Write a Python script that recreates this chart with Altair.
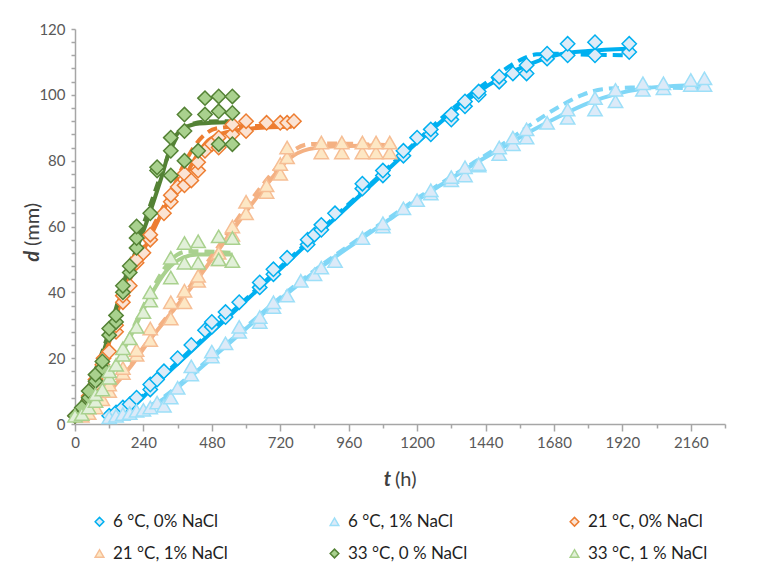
import altair as alt
import pandas as pd

# ---- series definitions -------------------------------------------------
SERIES = ["6 °C, 0% NaCl", "6 °C, 1% NaCl", "21 °C, 0% NaCl",
          "21 °C, 1% NaCl", "33 °C, 0 % NaCl", "33 °C, 1 % NaCl"]
SHAPES = ["diamond", "triangle-up", "diamond", "triangle-up", "diamond", "triangle-up"]
FILLS = ["#DDEBF7", "#DCEAF8", "#FBE3D3", "#FDE7C4", "#A9D18E", "#E2F0D9"]
STROKES = ["#00B0F0", "#9DDFF8", "#ED7D31", "#F6BE95", "#548235", "#A9D18E"]
LINE_COLORS = ["#00B0F0", "#80D7F7", "#ED7D31", "#F4B183", "#548235", "#A9D18E"]

# ---- measured diameters (t in h, d in mm) -------------------------------
obs_6_0 = [(0, 2.5), (120, 2.5), (144, 3.5), (168, 5), (192, 6), (216, 8), (264, 10.5), (264, 12),
           (288, 13.5), (312, 16), (360, 20), (408, 24), (456, 28.5), (480, 29.5), (480, 31),
           (528, 32.5), (528, 34), (576, 37), (648, 41.5), (648, 43), (696, 45.5), (696, 47),
           (744, 50.5), (816, 54.5), (816, 56), (840, 57.5), (864, 59), (864, 60.5), (912, 64),
           (1008, 71.5), (1008, 73), (1080, 75.5), (1080, 77), (1152, 81.5), (1152, 83), (1200, 87),
           (1248, 88), (1248, 89.5), (1320, 92.5), (1320, 94), (1368, 96.5), (1368, 98),
           (1416, 100), (1416, 101), (1488, 104), (1488, 105.5), (1536, 106.5), (1584, 106.5),
           (1584, 109), (1656, 111), (1656, 112.5), (1728, 112), (1728, 115.5), (1824, 112),
           (1824, 116), (1944, 113), (1944, 115.5)]
obs_6_1 = [(120, 2), (144, 2.5), (168, 3), (192, 3.3), (216, 4), (240, 4.3), (264, 5), (288, 6.5),
           (312, 5.5), (336, 8), (360, 11), (408, 15), (408, 17.5), (480, 20.5), (480, 22),
           (528, 24.5), (576, 28), (576, 29.5), (648, 31), (648, 32.5), (696, 35.5), (696, 37),
           (744, 39), (792, 43.5), (840, 45.5), (864, 47.5), (912, 49.5), (1008, 56.5), (1080, 60),
           (1080, 61), (1152, 65.5), (1200, 68), (1248, 70), (1248, 71), (1320, 74), (1320, 75),
           (1368, 75.5), (1368, 78), (1416, 78.5), (1416, 79), (1488, 82), (1488, 84), (1536, 85),
           (1536, 87), (1584, 87), (1584, 89.5), (1656, 91.5), (1728, 93), (1728, 95.5),
           (1824, 95.5), (1824, 99), (1896, 98), (1896, 101.5), (1992, 101.5), (1992, 103.5),
           (2064, 102), (2064, 103.5), (2160, 103), (2160, 104.5), (2208, 103), (2208, 105)]
obs_21_0 = [(0, 2.5), (24, 4), (48, 7), (48, 8.5), (72, 12), (72, 13.5), (96, 16), (96, 18),
            (100, 20), (120, 22), (144, 28), (144, 30), (168, 37), (168, 39), (192, 42), (216, 49),
            (216, 50), (240, 52), (264, 56), (264, 57.5), (312, 64), (336, 67.5), (336, 69.5),
            (360, 72), (384, 72.5), (384, 76), (408, 74), (432, 77), (432, 79.5), (456, 83),
            (480, 85), (504, 84), (504, 87), (552, 88), (552, 91), (600, 89), (600, 92),
            (672, 91.5), (720, 91.5), (744, 91.5), (768, 92)]
obs_21_1 = [(24, 2.5), (48, 3.3), (72, 5), (96, 7.5), (120, 10), (120, 12), (168, 15.5), (168, 17),
            (216, 21), (216, 22.5), (264, 25.5), (264, 29), (336, 32), (336, 37), (384, 37),
            (384, 40.5), (432, 43.5), (432, 45), (504, 50), (504, 52), (552, 57.5), (552, 60),
            (600, 64), (600, 67.5), (672, 70.5), (672, 72.5), (720, 76), (720, 79), (744, 81),
            (744, 84), (864, 82.5), (864, 85.5), (936, 82.5), (936, 85.5), (1008, 82.5),
            (1008, 85.5), (1056, 82.5), (1056, 85.5), (1104, 82.5), (1104, 85.5)]
obs_33_0 = [(0, 2.5), (24, 5), (48, 8), (48, 10), (72, 13), (72, 15), (96, 17), (96, 19), (120, 27),
            (120, 29), (144, 31), (144, 33), (168, 40), (168, 42), (192, 46), (192, 48), (216, 53.5),
            (216, 56.5), (216, 60), (264, 64), (288, 77), (288, 78), (336, 75.5), (336, 83),
            (336, 87), (384, 80), (384, 89), (384, 94), (432, 83), (456, 94), (456, 99), (504, 85),
            (504, 95), (504, 99.5), (552, 85), (552, 94.5), (552, 99.5)]
obs_33_1 = [(0, 2.5), (24, 3), (48, 5), (72, 7), (72, 9), (96, 10.5), (120, 14), (120, 16), (144, 18),
            (168, 21), (168, 23), (192, 26), (216, 29.5), (240, 34), (264, 37.5), (264, 40),
            (336, 44.5), (336, 50.5), (384, 49), (384, 55), (432, 49), (432, 55.5), (504, 50),
            (504, 57), (552, 49.5), (552, 56.5)]

# ---- fitted growth curves: solid and dashed model -----------------------
fit_6_0_solid = [(130, 0.5), (200, 5), (300, 13.5), (400, 21.5), (500, 29.5), (600, 37.5), (700, 45.5),
                 (800, 53.5), (900, 61.5), (1000, 69.5), (1100, 77.5), (1200, 85.5), (1300, 93),
                 (1400, 100), (1500, 105.5), (1600, 109.5), (1700, 112.3), (1800, 113.3), (1940, 114)]
fit_6_0_dash = [(130, 0.5), (200, 5.5), (300, 14), (400, 22), (500, 30), (600, 38), (700, 46),
                (800, 54), (900, 62), (1000, 70), (1100, 78), (1200, 86), (1300, 94), (1400, 101),
                (1480, 106), (1560, 110.5), (1620, 112.3), (1680, 112.5), (1800, 112.2), (1940, 112)]
fit_6_1_solid = [(110, 0.5), (200, 2.5), (300, 7), (400, 14), (500, 21.5), (600, 29), (700, 36.5),
                 (800, 43.5), (900, 50), (1000, 56), (1100, 62), (1200, 68), (1300, 73.5), (1400, 79),
                 (1500, 84), (1600, 89), (1700, 93.5), (1800, 97.5), (1900, 100.3), (2000, 102),
                 (2100, 102.7), (2200, 103)]
fit_6_1_dash = [(110, 0.5), (200, 2.8), (300, 7.5), (400, 14.5), (500, 22), (600, 29.5), (700, 37),
                (800, 44), (900, 50.5), (1000, 56.5), (1100, 62.5), (1200, 68.5), (1300, 74),
                (1400, 79.5), (1500, 85), (1600, 91), (1700, 96.5), (1780, 100), (1850, 101.7),
                (1950, 102.2), (2200, 102)]
fit_21_0_solid = [(0, 1), (50, 8), (100, 19), (160, 37), (220, 49), (270, 58), (320, 66.5), (380, 74),
                  (420, 80.5), (460, 85.5), (500, 87.8), (540, 88.8), (620, 89.8), (760, 90.3)]
fit_21_0_dash = [(0, 1), (50, 8.5), (100, 19.5), (160, 37.5), (220, 50), (280, 61), (340, 71),
                 (380, 78.5), (420, 84.5), (460, 88.3), (510, 90), (600, 90.5), (760, 90.5)]
fit_21_1_solid = [(0, 1), (50, 3.5), (100, 8), (200, 18), (262, 25.5), (340, 34), (430, 44), (500, 52.5),
                  (600, 64.5), (680, 73.5), (750, 80.5), (820, 83.5), (900, 84.3), (1100, 84.7)]
fit_21_1_dash = [(0, 1), (100, 8), (200, 18.5), (262, 26), (340, 34.5), (430, 45), (500, 53.5),
                 (600, 66), (680, 75), (750, 82), (820, 85), (900, 85.2), (1100, 84.7)]
fit_33_0_solid = [(0, 2), (24, 5.5), (100, 22), (182, 45), (262, 64), (300, 74), (343, 86), (385, 90),
                  (437, 91.3), (540, 91.7)]
fit_33_0_dash = [(0, 2), (100, 23), (182, 46), (262, 66), (320, 80), (360, 87.5), (400, 90.8),
                 (450, 91.8), (540, 92)]
fit_33_1_solid = [(0, 1), (50, 5), (100, 11), (150, 19), (200, 27.5), (262, 38.5), (320, 46.5),
                  (378, 50.5), (430, 51.5), (553, 51.5)]
fit_33_1_dash = [(0, 1), (100, 12), (200, 28.5), (262, 39.5), (320, 48), (360, 51.5), (400, 52.5),
                 (553, 52)]

OBS = [obs_6_0, obs_6_1, obs_21_0, obs_21_1, obs_33_0, obs_33_1]
FIT_SOLID = [fit_6_0_solid, fit_6_1_solid, fit_21_0_solid, fit_21_1_solid, fit_33_0_solid, fit_33_1_solid]
FIT_DASH = [fit_6_0_dash, fit_6_1_dash, fit_21_0_dash, fit_21_1_dash, fit_33_0_dash, fit_33_1_dash]


def frame(groups):
    rows = []
    for i, (name, pts) in enumerate(zip(SERIES, groups)):
        for t, d in pts:
            rows.append({"series": name, "order": i, "t": t, "d": d})
    return pd.DataFrame(rows)


points_df = frame(OBS)
solid_df = frame(FIT_SOLID)
dash_df = frame(FIT_DASH)

FONT = "Lato"
x_scale = alt.Scale(domain=[0, 2280], nice=False, zero=False)
y_scale = alt.Scale(domain=[0, 120], nice=False)

x_enc = alt.X(
    "t:Q", scale=x_scale, title=None,
    axis=alt.Axis(values=list(range(0, 2281, 120)), grid=False,
                  labelExpr="datum.value % 240 === 0 ? datum.label : ''",
                  format="d", tickSize={"expr": "datum.value % 240 === 0 ? 7 : 4"},
                  domainColor="#A6A6A6", tickColor="#A6A6A6", domainWidth=1.5, tickWidth=1.5,
                  labelColor="#595959", labelFontSize=15, labelFont=FONT, labelPadding=4,
                  labelFlush=False),
)
y_enc = alt.Y(
    "d:Q", scale=y_scale, title=None,
    axis=alt.Axis(values=list(range(0, 121, 4)), grid=False,
                  labelExpr="datum.value % 20 === 0 ? datum.label : ''",
                  tickSize=4, domainColor="#A6A6A6", tickColor="#A6A6A6", domainWidth=1.5,
                  tickWidth=1.5, labelColor="#595959", labelFontSize=15, labelFont=FONT,
                  labelPadding=6),
)

line_color = alt.Color("series:N", scale=alt.Scale(domain=SERIES, range=LINE_COLORS), legend=None)

solid_lines = alt.Chart(solid_df).mark_line(strokeWidth=4, interpolate="monotone").encode(
    x=x_enc, y=y_enc, color=line_color, detail="series:N", order="t:Q")
dash_lines = alt.Chart(dash_df).mark_line(strokeWidth=4, interpolate="monotone",
                                          strokeDash=[10, 6]).encode(
    x=x_enc, y=y_enc, color=line_color, detail="series:N", order="t:Q")

legend = alt.Legend(title=None, orient="none", legendX=16, legendY=484, columns=3,
                    direction="horizontal",
                    columnPadding=98, rowPadding=14, symbolSize=75,
                    symbolStrokeWidth=1.5, labelFontSize=17, labelFont=FONT, labelColor="#1F1F1F",
                    labelOffset=5, labelLimit=220)

markers = alt.Chart(points_df).mark_point(filled=False, size=205, strokeWidth=1.5, opacity=1).encode(
    x=x_enc, y=y_enc,
    fill=alt.Fill("series:N", scale=alt.Scale(domain=SERIES, range=FILLS), legend=legend),
    stroke=alt.Stroke("series:N", scale=alt.Scale(domain=SERIES, range=STROKES), legend=legend),
    shape=alt.Shape("series:N", scale=alt.Scale(domain=SERIES, range=SHAPES), legend=legend),
    fillOpacity=alt.value(1),
    order="order:Q",
)

one = pd.DataFrame({"k": [0]})
title_style = dict(font=FONT, fontSize=20, color="#404040")
x_title_a = alt.Chart(one).mark_text(text="t", fontWeight="bold", fontStyle="italic", align="right",
                                     baseline="middle", **title_style).encode(
    x=alt.value(316), y=alt.value(451))
x_title_b = alt.Chart(one).mark_text(text="(h)", align="left", baseline="middle",
                                     **title_style).encode(
    x=alt.value(320), y=alt.value(451))
y_title_a = alt.Chart(one).mark_text(text="d", fontWeight="bold", fontStyle="italic", align="right",
                                     baseline="middle", angle=270, **title_style).encode(
    x=alt.value(-42), y=alt.value(222))
y_title_b = alt.Chart(one).mark_text(text="(mm)", align="left", baseline="middle", angle=270,
                                     **title_style).encode(
    x=alt.value(-42), y=alt.value(217))

chart = alt.layer(
    solid_lines, dash_lines, markers, x_title_a, x_title_b, y_title_a, y_title_b
).resolve_scale(
    color="independent"
).properties(
    width=650, height=395,
    autosize=alt.AutoSizeParams(type="none"),
    padding={"left": 75, "top": 29, "right": 32, "bottom": 144},
    background="white",
).configure_view(stroke=None)

chart.save("out.html", embed_options={"renderer": "svg", "actions": False})
